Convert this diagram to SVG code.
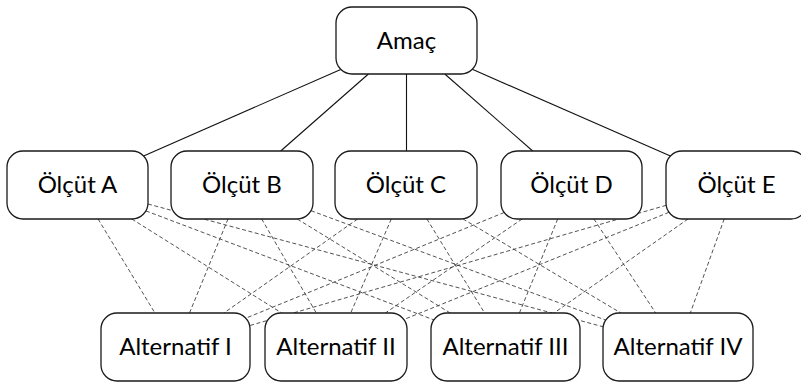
<svg xmlns="http://www.w3.org/2000/svg" width="801" height="383" viewBox="0 0 801 383">
<style>
.box{fill:#fff;stroke:#1a1a1a;stroke-width:1.3}
.lbl{font-family:Lato,"Open Sans","Liberation Sans",sans-serif;font-size:24px;fill:#000;text-anchor:middle}
.solid{stroke:#111;stroke-width:1.1;fill:none}
.dash{stroke:#333;stroke-width:0.85;stroke-dasharray:4 2.5;fill:none}
</style>
<rect width="801" height="383" fill="#fff"/>
<g id="connectors">
<line class="solid" x1="340.7" y1="69.4" x2="143.6" y2="156"/>
<line class="solid" x1="368.4" y1="74" x2="280.7" y2="151"/>
<line class="solid" x1="406.5" y1="74" x2="406.5" y2="151"/>
<line class="solid" x1="444.8" y1="74" x2="532.7" y2="151"/>
<line class="solid" x1="472.3" y1="69.3" x2="670.4" y2="156"/>
<line class="dash" x1="98.1" y1="219" x2="154.9" y2="313"/>
<line class="dash" x1="131.8" y1="219" x2="281.7" y2="313"/>
<line class="dash" x1="145.9" y1="210.9" x2="433.9" y2="319.9"/>
<line class="dash" x1="148" y1="204" x2="603.2" y2="326.8"/>
<line class="dash" x1="228" y1="219" x2="189.5" y2="313"/>
<line class="dash" x1="261.7" y1="219" x2="316.3" y2="313"/>
<line class="dash" x1="297.3" y1="219" x2="450.2" y2="313"/>
<line class="dash" x1="311" y1="210.7" x2="605.7" y2="320.1"/>
<line class="dash" x1="357.6" y1="219" x2="223.9" y2="313"/>
<line class="dash" x1="391.3" y1="219" x2="350.7" y2="313"/>
<line class="dash" x1="426.9" y1="219" x2="484.6" y2="313"/>
<line class="dash" x1="462.9" y1="218.9" x2="620.9" y2="313"/>
<line class="dash" x1="504.2" y1="212.5" x2="245.8" y2="318.2"/>
<line class="dash" x1="522.1" y1="219" x2="385.4" y2="313"/>
<line class="dash" x1="557.7" y1="219" x2="519.4" y2="313"/>
<line class="dash" x1="593.9" y1="219" x2="655.7" y2="313"/>
<line class="dash" x1="666.2" y1="205.3" x2="249.6" y2="325.6"/>
<line class="dash" x1="669" y1="212.3" x2="403.9" y2="319.5"/>
<line class="dash" x1="688" y1="219" x2="554" y2="313"/>
<line class="dash" x1="724.2" y1="219" x2="690.3" y2="313"/>
</g>
<g id="amac"><rect class="box" x="336" y="7" width="141" height="67" rx="16"/><text class="lbl" x="406.5" y="48.5">Amaç</text></g>
<g id="olcut-a"><rect class="box" x="7" y="151" width="141" height="68" rx="16"/><text class="lbl" x="77.5" y="192.5">Ölçüt A</text></g>
<g id="olcut-b"><rect class="box" x="171" y="151" width="142" height="68" rx="16"/><text class="lbl" x="242" y="192.5">Ölçüt B</text></g>
<g id="olcut-c"><rect class="box" x="335" y="151" width="142" height="68" rx="16"/><text class="lbl" x="406" y="192.5">Ölçüt C</text></g>
<g id="olcut-d"><rect class="box" x="501" y="151" width="141" height="68" rx="16"/><text class="lbl" x="571.5" y="192.5">Ölçüt D</text></g>
<g id="olcut-e"><rect class="box" x="666" y="151" width="141" height="68" rx="16"/><text class="lbl" x="736.5" y="192.5">Ölçüt E</text></g>
<g id="alt-1"><rect class="box" x="101" y="313" width="149" height="68" rx="16"/><text class="lbl" x="175.5" y="355">Alternatif I</text></g>
<g id="alt-2"><rect class="box" x="265" y="313" width="142" height="68" rx="16"/><text class="lbl" x="336" y="355">Alternatif II</text></g>
<g id="alt-3"><rect class="box" x="431" y="313" width="149" height="68" rx="16"/><text class="lbl" x="505.5" y="355">Alternatif III</text></g>
<g id="alt-4"><rect class="box" x="603" y="313" width="150" height="68" rx="16"/><text class="lbl" x="678" y="355">Alternatif IV</text></g>
</svg>
